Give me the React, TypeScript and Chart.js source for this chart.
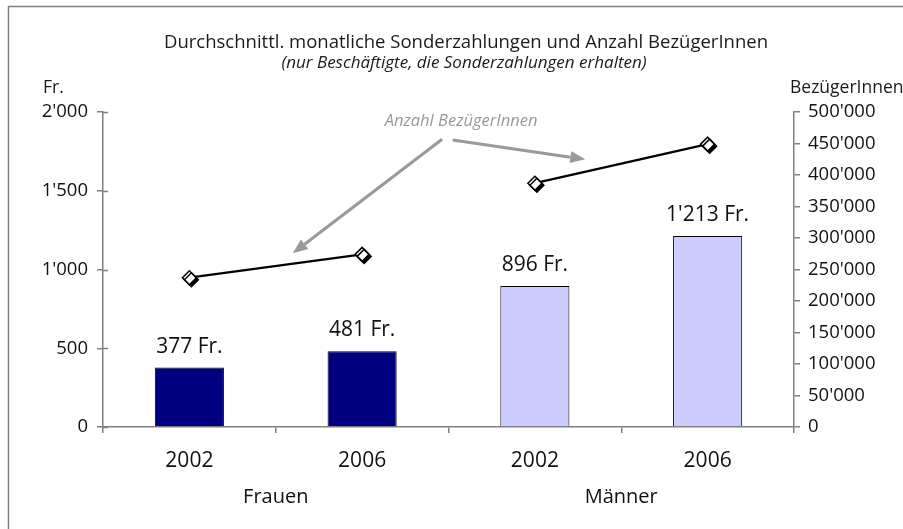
import React, { useEffect, useRef } from 'react';
import { Chart, registerables } from 'chart.js';

Chart.register(...registerables);

// ---- data ----
const categories = ['2002', '2006', '2002', '2006'];
const groups = ['Frauen', 'Männer'];
const groupOfCategory = [0, 0, 1, 1];
const amounts = [377, 481, 896, 1213]; // Fr. per month
const recipients = [237000, 274000, 387000, 449000]; // BezügerInnen
const barColors = ['#000080', '#000080', '#CCCCFF', '#CCCCFF'];
const titleText = 'Durchschnittl. monatliche Sonderzahlungen und Anzahl BezügerInnen';
const subtitleText = '(nur Beschäftigte, die Sonderzahlungen erhalten)';
const leftAxisTitle = 'Fr.';
const rightAxisTitle = 'BezügerInnen';
const annotationText = 'Anzahl BezügerInnen';
// annotation anchor in data space: [category index, recipients value]
const annotationAnchor = [1.573, 484600];
// arrows in data space: [fromIndex, fromValue, toIndex, toValue]
const arrows = [
  [1.463, 456700, 0.598, 275700],
  [1.524, 455600, 2.292, 424900],
];

const FONT = '"Open Sans", "Noto Sans", sans-serif';

const fmt = (n: number) => String(n).replace(/\B(?=(\d{3})+(?!\d))/g, "'");

const decorPlugin = {
  id: 'decor',
  beforeDraw(chart: any) {
    const ctx = chart.ctx;
    ctx.save();
    ctx.strokeStyle = '#808080';
    ctx.lineWidth = 1.5;
    ctx.beginPath();
    ctx.moveTo(8.5, chart.height);
    ctx.lineTo(8.5, 6.5);
    ctx.lineTo(chart.width, 6.5);
    ctx.stroke();
    ctx.restore();
  },
  afterDraw(chart: any) {
    const ctx = chart.ctx;
    const ca = chart.chartArea;
    ctx.save();
    // titles
    ctx.fillStyle = '#1a1a1a';
    ctx.textAlign = 'center';
    ctx.textBaseline = 'middle';
    ctx.font = `18.5px ${FONT}`;
    ctx.fillText(titleText, 466, 43);
    ctx.font = `italic 17px ${FONT}`;
    ctx.fillText(subtitleText, 464, 63);
    // axis titles
    ctx.font = `17.5px ${FONT}`;
    ctx.textAlign = 'left';
    ctx.fillText(leftAxisTitle, 43, 88);
    ctx.fillText(rightAxisTitle, 790, 88);
    // inner half of left axis ticks (cross ticks)
    const yl = chart.scales.y;
    ctx.strokeStyle = '#808080';
    ctx.lineWidth = 1.5;
    yl.ticks.forEach((t: any) => {
      const py = Math.round(yl.getPixelForValue(t.value)) + 0.5;
      ctx.beginPath();
      ctx.moveTo(ca.left, py);
      ctx.lineTo(ca.left + 5, py);
      ctx.stroke();
    });
    // annotation
    const xs = chart.scales.x;
    const y2 = chart.scales.y2;
    ctx.fillStyle = '#999999';
    ctx.font = `italic 16.5px ${FONT}`;
    ctx.textAlign = 'center';
    ctx.fillText(annotationText, xs.getPixelForValue(annotationAnchor[0]), y2.getPixelForValue(annotationAnchor[1]));
    ctx.strokeStyle = '#999999';
    ctx.lineWidth = 3;
    arrows.forEach((a) => {
      const x1 = xs.getPixelForValue(a[0]);
      const y1 = y2.getPixelForValue(a[1]);
      const x2 = xs.getPixelForValue(a[2]);
      const yy2 = y2.getPixelForValue(a[3]);
      const ang = Math.atan2(yy2 - y1, x2 - x1);
      const headLen = 15;
      const headW = 6;
      const bx = x2 - headLen * Math.cos(ang);
      const by = yy2 - headLen * Math.sin(ang);
      ctx.beginPath();
      ctx.moveTo(x1, y1);
      ctx.lineTo(bx, by);
      ctx.stroke();
      ctx.beginPath();
      ctx.moveTo(x2, yy2);
      ctx.lineTo(bx + headW * Math.sin(ang), by - headW * Math.cos(ang));
      ctx.lineTo(bx - headW * Math.sin(ang), by + headW * Math.cos(ang));
      ctx.closePath();
      ctx.fillStyle = '#999999';
      ctx.fill();
    });
    ctx.restore();
  },
  afterDatasetsDraw(chart: any) {
    const ctx = chart.ctx;
    const meta = chart.getDatasetMeta(2);
    ctx.save();
    ctx.fillStyle = '#111';
    ctx.font = `21px ${FONT}`;
    ctx.textAlign = 'center';
    ctx.textBaseline = 'middle';
    meta.data.forEach((el: any, i: number) => {
      ctx.fillText(`${fmt(amounts[i])} Fr.`, el.x, el.y - 21);
    });
    ctx.restore();
  },
  beforeDatasetDraw(chart: any, args: any) {
    if (args.index === 0) {
      const ctx = chart.ctx;
      ctx.save();
      ctx.shadowColor = '#000';
      ctx.shadowOffsetX = 2;
      ctx.shadowOffsetY = 2;
      ctx.shadowBlur = 0;
    }
  },
  afterDatasetDraw(chart: any, args: any) {
    if (args.index === 0) chart.ctx.restore();
  },
};

export default function App() {
  const ref = useRef<HTMLCanvasElement>(null);
  useEffect(() => {
    if (!ref.current) return;
    const tickFont = { family: FONT, size: 18.5 };
    const chart = new Chart(ref.current, {
      type: 'bar',
      data: {
        labels: categories,
        datasets: [
          {
            type: 'line',
            data: recipients,
            yAxisID: 'y2',
            showLine: false,
            pointStyle: 'rectRot',
            pointRadius: 7,
            pointBackgroundColor: '#ffffff',
            pointBorderColor: '#000000',
            pointBorderWidth: 1.5,
            order: 0,
          } as any,
          {
            type: 'line',
            data: recipients,
            yAxisID: 'y2',
            borderColor: '#000000',
            borderWidth: 2.2,
            pointRadius: 0,
            tension: 0,
            segment: {
              borderColor: (c: any) =>
                groupOfCategory[c.p0DataIndex] === groupOfCategory[c.p1DataIndex] ? '#000000' : 'rgba(0,0,0,0)',
            },
            order: 1,
          } as any,
          {
            type: 'bar',
            data: amounts,
            yAxisID: 'y',
            backgroundColor: barColors,
            borderColor: '#000000',
            borderWidth: 1,
            barPercentage: 0.4,
            categoryPercentage: 1,
            order: 2,
          } as any,
        ],
      },
      options: {
        responsive: false,
        animation: false,
        events: [],
        layout: { padding: { top: 112, left: 0, right: 0, bottom: 0 } },
        plugins: { legend: { display: false }, title: { display: false }, tooltip: { enabled: false } },
        scales: {
          x: {
            type: 'category',
            position: 'bottom',
            weight: 0,
            offset: true,
            grid: { offset: true, drawOnChartArea: false, drawTicks: true, tickLength: 6, color: '#808080', lineWidth: 1.5 },
            border: { color: '#808080', width: 1.5 },
            ticks: { font: { family: FONT, size: 21 }, color: '#111', padding: 15, maxRotation: 0 },
            afterFit: (s: any) => { s.height = 50; },
          },
          x2: {
            type: 'category',
            position: 'bottom',
            weight: 1,
            labels: groups,
            offset: true,
            grid: { display: false, drawTicks: false },
            border: { display: false },
            ticks: { font: { family: FONT, size: 20 }, color: '#111', padding: 8, maxRotation: 0 },
            afterFit: (s: any) => { s.height = 52; },
          },
          y: {
            position: 'left',
            min: 0,
            max: 2000,
            ticks: { stepSize: 500, font: tickFont, color: '#111', padding: 9, callback: (v: any) => fmt(v) },
            grid: { drawOnChartArea: false, tickLength: 6, color: '#808080', lineWidth: 1.5 },
            border: { color: '#808080', width: 1.5 },
            afterFit: (s: any) => { s.width = 103; },
          },
          y2: {
            position: 'right',
            min: 0,
            max: 500000,
            ticks: { stepSize: 50000, font: tickFont, color: '#111', padding: 8, callback: (v: any) => fmt(v) },
            grid: { drawOnChartArea: false, tickLength: 6, color: '#808080', lineWidth: 1.5 },
            border: { color: '#808080', width: 1.5 },
            afterFit: (s: any) => { s.width = 109; },
          },
        },
      } as any,
      plugins: [decorPlugin],
    });
    return () => chart.destroy();
  }, []);
  return (
    <div style={{ position: 'absolute', left: 0, top: 0, width: 903, height: 529, background: '#fff' }}>
      <canvas ref={ref} width={903} height={529} style={{ display: 'block' }} />
    </div>
  );
}
